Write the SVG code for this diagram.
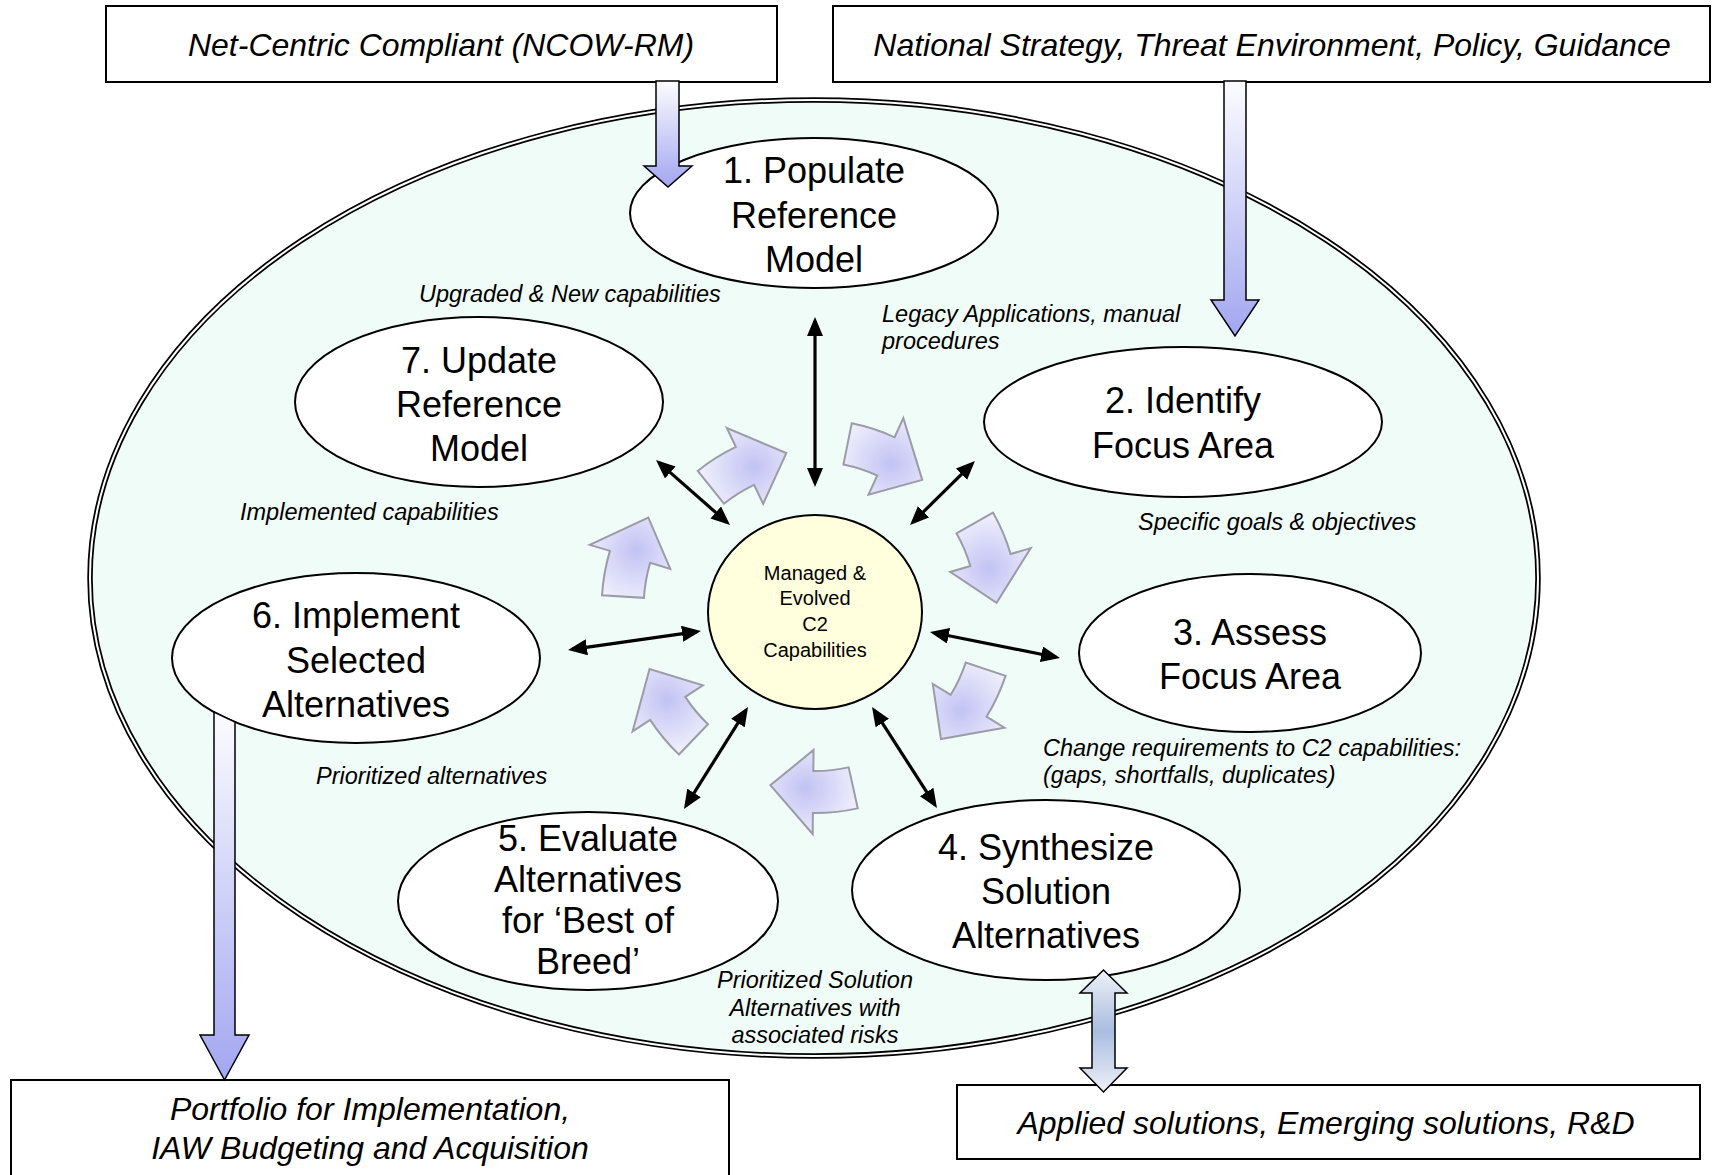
<svg xmlns="http://www.w3.org/2000/svg" xmlns:xlink="http://www.w3.org/1999/xlink" width="1714" height="1175" viewBox="0 0 1714 1175">
<style>
  .f{font-family:"Liberation Sans",Arial,sans-serif;fill:#000}
  .nd{fill:#fff;stroke:#000;stroke-width:2}
  .nt{font-size:36px;text-anchor:middle}
  .ct{font-size:20px;text-anchor:middle}
  .lb{font-size:23.5px;font-style:italic}
  .lbm{font-size:23.5px;font-style:italic;text-anchor:middle}
  .bx{fill:#fff;stroke:#000;stroke-width:2}
  .bt{font-size:32px;font-style:italic;text-anchor:middle}
  .ln{stroke:#000;stroke-width:3.2;fill:none;marker-start:url(#ah);marker-end:url(#ah)}
  .blk{stroke:#000;stroke-width:1.5}
  .curl{fill:url(#cg);stroke:#9c9ca8;stroke-width:2;stroke-linejoin:miter}
</style>
<defs>
  <marker id="ah" viewBox="0 0 19 16" refX="15" refY="8" markerWidth="19" markerHeight="16" markerUnits="userSpaceOnUse" orient="auto-start-reverse">
    <path d="M0,0 L19,8 L0,16 Z" fill="#000"/>
  </marker>
  <linearGradient id="gv" x1="0" y1="0" x2="0" y2="1">
    <stop offset="0" stop-color="#fcfcff"/>
    <stop offset="1" stop-color="#a2a6f0"/>
  </linearGradient>
  <linearGradient id="gd" x1="0" y1="0" x2="0" y2="1">
    <stop offset="0" stop-color="#eef0f8"/>
    <stop offset="0.5" stop-color="#a9bde0"/>
    <stop offset="1" stop-color="#eef0f8"/>
  </linearGradient>
  <radialGradient id="cg" cx="0.6" cy="0.55" r="0.6">
    <stop offset="0" stop-color="#c2c2f4"/>
    <stop offset="1" stop-color="#eeeefc"/>
  </radialGradient>
  <path id="curl" d="M-44.8,-193.9 A199,199 0 0 1 0,-199 L0,-220 L42.8,-171.7 L0,-136 L0,-157 A157,157 0 0 0 -35.3,-153.0 Z"/>
</defs>

<g id="cycle">
  <ellipse cx="814" cy="578" rx="724" ry="478" fill="#f0fcf7" stroke="#000" stroke-width="5.5"/>
  <ellipse cx="814" cy="578" rx="724" ry="478" fill="none" stroke="#fff" stroke-width="2"/>
</g>

<g id="box-ncow">
  <rect class="bx" x="106" y="6" width="671" height="76"/>
  <text class="f bt" x="441" y="56">Net-Centric Compliant (NCOW-RM)</text>
</g>
<g id="box-strategy">
  <rect class="bx" x="833" y="6" width="877" height="76"/>
  <text class="f bt" x="1272" y="56">National Strategy, Threat Environment, Policy, Guidance</text>
</g>
<g id="box-portfolio">
  <rect class="bx" x="11" y="1080" width="718" height="120"/>
  <text class="f bt" x="370" y="1120">Portfolio for Implementation,</text>
  <text class="f bt" x="370" y="1159">IAW Budgeting and Acquisition</text>
</g>
<g id="box-solutions">
  <rect class="bx" x="957" y="1085" width="743" height="74"/>
  <text class="f bt" x="1326" y="1134">Applied solutions, Emerging solutions, R&amp;D</text>
</g>

<g id="node1">
  <ellipse class="nd" cx="814" cy="213" rx="184" ry="75"/>
  <text class="f nt" x="814" y="183">1. Populate</text>
  <text class="f nt" x="814" y="228">Reference</text>
  <text class="f nt" x="814" y="272">Model</text>
</g>
<g id="node2">
  <ellipse class="nd" cx="1183" cy="422" rx="199" ry="75"/>
  <text class="f nt" x="1183" y="413">2. Identify</text>
  <text class="f nt" x="1183" y="458">Focus Area</text>
</g>
<g id="node3">
  <ellipse class="nd" cx="1250" cy="653" rx="171" ry="79"/>
  <text class="f nt" x="1250" y="645">3. Assess</text>
  <text class="f nt" x="1250" y="689">Focus Area</text>
</g>
<g id="node4">
  <ellipse class="nd" cx="1046" cy="890" rx="194" ry="90"/>
  <text class="f nt" x="1046" y="860">4. Synthesize</text>
  <text class="f nt" x="1046" y="904">Solution</text>
  <text class="f nt" x="1046" y="948">Alternatives</text>
</g>
<g id="node5">
  <ellipse class="nd" cx="588" cy="901" rx="190" ry="89"/>
  <text class="f nt" x="588" y="851">5. Evaluate</text>
  <text class="f nt" x="588" y="892">Alternatives</text>
  <text class="f nt" x="588" y="933">for ‘Best of</text>
  <text class="f nt" x="588" y="974">Breed’</text>
</g>
<g id="node6">
  <ellipse class="nd" cx="356" cy="658" rx="184" ry="85"/>
  <text class="f nt" x="356" y="628">6. Implement</text>
  <text class="f nt" x="356" y="673">Selected</text>
  <text class="f nt" x="356" y="717">Alternatives</text>
</g>
<g id="node7">
  <ellipse class="nd" cx="479" cy="402" rx="184" ry="85"/>
  <text class="f nt" x="479" y="373">7. Update</text>
  <text class="f nt" x="479" y="417">Reference</text>
  <text class="f nt" x="479" y="461">Model</text>
</g>
<g id="center">
  <ellipse cx="815" cy="612" rx="107" ry="97" fill="#ffffdd" stroke="#000" stroke-width="2"/>
  <text class="f ct" x="815" y="580">Managed &amp;</text>
  <text class="f ct" x="815" y="605">Evolved</text>
  <text class="f ct" x="815" y="631">C2</text>
  <text class="f ct" x="815" y="657">Capabilities</text>
</g>

<g id="flow">
  <use xlink:href="#curl" class="curl" transform="translate(815,612) rotate(-25.6) translate(0,16)"/>
  <use xlink:href="#curl" class="curl" transform="translate(815,612) rotate(24.5) translate(0,7)"/>
  <use xlink:href="#curl" class="curl" transform="translate(815,612) rotate(73.5) translate(0,-5)"/>
  <use xlink:href="#curl" class="curl" transform="translate(815,612) rotate(121.4) translate(0,-2)"/>
  <use xlink:href="#curl" class="curl" transform="translate(815,612) rotate(180.6) translate(0,-2)"/>
  <use xlink:href="#curl" class="curl" transform="translate(815,612) rotate(236.8) translate(0,2)"/>
  <use xlink:href="#curl" class="curl" transform="translate(815,612) rotate(286.6) translate(0,-15)"/>
</g>

<g id="connectors">
  <line class="ln" x1="815" y1="321" x2="815" y2="483"/>
  <line class="ln" x1="659" y1="462.6" x2="727" y2="522.4"/>
  <line class="ln" x1="972.1" y1="463.8" x2="912.9" y2="522.2"/>
  <line class="ln" x1="572" y1="649.4" x2="697" y2="631.6"/>
  <line class="ln" x1="933.9" y1="632.8" x2="1056.1" y2="657.2"/>
  <line class="ln" x1="745.9" y1="710.4" x2="686.1" y2="805.6"/>
  <line class="ln" x1="874.2" y1="710.4" x2="934.8" y2="804.6"/>
  <path class="blk" fill="url(#gv)" d="M656,81 L656,166 L644,166 L668,187 L692,166 L679,166 L679,81 Z"/>
  <path class="blk" fill="url(#gv)" d="M1224,81 L1224,300 L1211,300 L1235,336 L1259,300 L1246,300 L1246,81 Z"/>
  <path class="blk" fill="url(#gv)" d="M214,712 L214,1035 L200,1035 L224.5,1080 L249,1035 L235,1035 L235,722 Z"/>
  <path class="blk" fill="url(#gd)" d="M1092,993 L1080,993 L1103.5,970 L1127,993 L1115,993 L1115,1068 L1127,1068 L1103.5,1092 L1080,1068 L1092,1068 Z"/>
</g>

<g id="labels">
  <text class="f lb" x="419" y="302">Upgraded &amp; New capabilities</text>
  <text class="f lb" x="882" y="322">Legacy Applications, manual</text>
  <text class="f lb" x="882" y="349">procedures</text>
  <text class="f lb" x="240" y="520">Implemented capabilities</text>
  <text class="f lb" x="1138" y="530">Specific goals &amp; objectives</text>
  <text class="f lb" x="316" y="784">Prioritized alternatives</text>
  <text class="f lb" x="1043" y="756">Change requirements to C2 capabilities:</text>
  <text class="f lb" x="1043" y="783">(gaps, shortfalls, duplicates)</text>
  <text class="f lbm" x="815" y="988">Prioritized Solution</text>
  <text class="f lbm" x="815" y="1016">Alternatives with</text>
  <text class="f lbm" x="815" y="1043">associated risks</text>
</g>
</svg>
